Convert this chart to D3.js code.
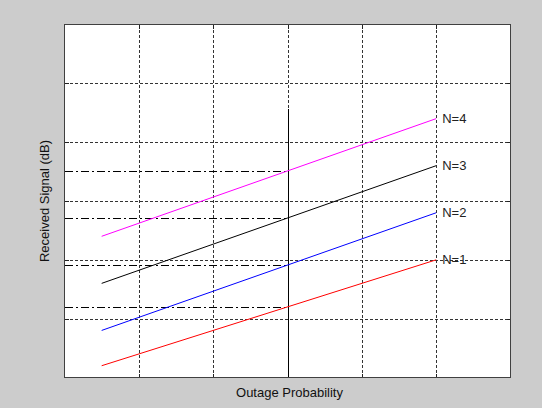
<!DOCTYPE html>
<html>
<head>
<meta charset="utf-8">
<script src="https://cdn.jsdelivr.net/npm/d3@7"></script>
<style>
  html, body { margin: 0; padding: 0; background: #cccccc; }
  svg { display: block; }
  text { font-family: "Liberation Sans", Arial, sans-serif; }
</style>
</head>
<body>
<svg id="chart" width="542" height="408"></svg>
<script>
// ---- data ----
const xTicks = [1, 2, 3, 4, 5];
const yTicks = [1, 2, 3, 4, 5];
const xValues = [0.5, 5];
const seriesNames = ["N=1", "N=2", "N=3", "N=4"];
const seriesN1 = [0.2, 2.0];
const seriesN2 = [0.8, 2.8];
const seriesN3 = [1.6, 3.6];
const seriesN4 = [2.4, 4.4];
const seriesColors = ["#ff0000", "#0000ff", "#000000", "#ff00ff"];
const refX = 3;
const refLevels = [1.2, 1.91, 2.71, 3.51];
const refTop = 4.56;
const xLabel = "Outage Probability";
const yLabel = "Received Signal (dB)";

// ---- layout ----
const svg = d3.select("#chart");
const L = 64.5, R = 510.5, T = 24.5, B = 377.5;
const x = d3.scaleLinear().domain([0, 6]).range([L, R]);
const y = d3.scaleLinear().domain([0, 6]).range([B, T]);

svg.append("rect").attr("x", L).attr("y", T).attr("width", R - L).attr("height", B - T)
  .attr("fill", "#ffffff");

// grid
const gridColor = "#333333";
svg.append("g").attr("transform", `translate(0,${B})`)
  .call(d3.axisBottom(x).tickValues(xTicks).tickSize(-(B - T)).tickFormat(""))
  .call(g => g.select(".domain").remove())
  .call(g => g.selectAll("line").attr("stroke", gridColor).attr("stroke-dasharray", "3,2")
    .attr("shape-rendering", "crispEdges"));
svg.append("g").attr("transform", `translate(${L},0)`)
  .call(d3.axisLeft(y).tickValues(yTicks).tickSize(-(R - L)).tickFormat(""))
  .call(g => g.select(".domain").remove())
  .call(g => g.selectAll("line").attr("stroke", gridColor).attr("stroke-dasharray", "3,2")
    .attr("shape-rendering", "crispEdges"));

// inward ticks on all four sides
const tk = 4;
const axes = [
  [d3.axisBottom(x).tickValues(xTicks), `translate(0,${B})`, -tk],
  [d3.axisTop(x).tickValues(xTicks), `translate(0,${T})`, -tk],
  [d3.axisLeft(y).tickValues(yTicks), `translate(${L},0)`, -tk],
  [d3.axisRight(y).tickValues(yTicks), `translate(${R},0)`, -tk]
];
axes.forEach(([ax, tr, s]) => {
  svg.append("g").attr("transform", tr)
    .call(ax.tickSizeInner(s).tickSizeOuter(0).tickFormat(""))
    .call(g => g.select(".domain").remove())
    .call(g => g.selectAll("line").attr("stroke", "#222").attr("shape-rendering", "crispEdges"));
});

// reference dash-dot lines
svg.append("g").selectAll("line").data(refLevels).join("line")
  .attr("x1", x(0)).attr("x2", x(refX))
  .attr("y1", d => Math.round(y(d)) + 0.5).attr("y2", d => Math.round(y(d)) + 0.5)
  .attr("stroke", "#000").attr("stroke-dasharray", "8,3,2,3")
  .attr("shape-rendering", "crispEdges");

// vertical reference line
svg.append("line")
  .attr("x1", Math.round(x(refX)) + 0.5).attr("x2", Math.round(x(refX)) + 0.5)
  .attr("y1", y(0)).attr("y2", y(refTop))
  .attr("stroke", "#000").attr("shape-rendering", "crispEdges");

// series lines
const allSeries = [seriesN1, seriesN2, seriesN3, seriesN4];
const line = d3.line().x((d, i) => x(xValues[i])).y(d => y(d));
allSeries.forEach((s, k) => {
  svg.append("path").datum(s).attr("d", line)
    .attr("fill", "none").attr("stroke", seriesColors[k]).attr("stroke-width", 1);
  svg.append("text")
    .attr("x", x(xValues[xValues.length - 1]) + 6)
    .attr("y", y(s[s.length - 1]) + 4.5)
    .attr("font-size", 13).attr("fill", "#222")
    .text(seriesNames[k]);
});

// frame
svg.append("rect").attr("x", L).attr("y", T).attr("width", R - L).attr("height", B - T)
  .attr("fill", "none").attr("stroke", "#404040").attr("shape-rendering", "crispEdges");

// axis labels
svg.append("text").attr("x", (L + R) / 2 + 2).attr("y", 397)
  .attr("text-anchor", "middle").attr("font-size", 13).attr("fill", "#111")
  .text(xLabel);
svg.append("text")
  .attr("transform", `translate(49,${(T + B) / 2}) rotate(-90)`)
  .attr("text-anchor", "middle").attr("font-size", 13).attr("fill", "#111")
  .text(yLabel);
</script>
</body>
</html>
